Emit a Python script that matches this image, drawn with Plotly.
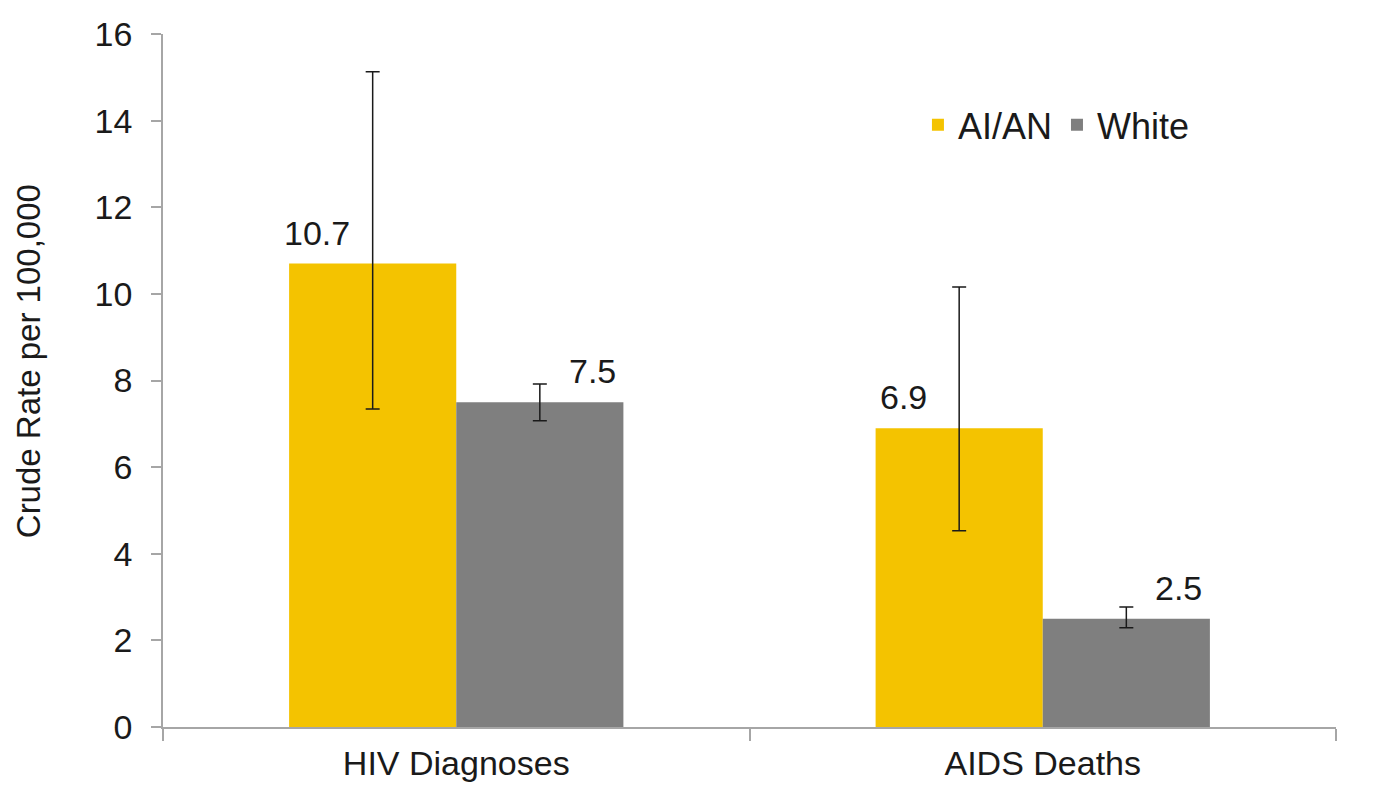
import plotly.graph_objects as go

categories = ["HIV Diagnoses", "AIDS Deaths"]
aian_values = [10.7, 6.9]
aian_upper = [15.13, 10.16]
aian_lower = [7.34, 4.53]
white_values = [7.5, 2.5]
white_upper = [7.92, 2.77]
white_lower = [7.07, 2.29]
y_ticks = [0, 2, 4, 6, 8, 10, 12, 14, 16]

GOLD = "#F4C300"
GRAY = "#7F7F7F"
FONT = "Liberation Sans, Arial, sans-serif"

def err(vals, up, lo):
    return dict(type="data", symmetric=False,
                array=[u - v for u, v in zip(up, vals)],
                arrayminus=[v - l for v, l in zip(vals, lo)],
                color="#1a1a1a", thickness=1.5, width=7)

fig = go.Figure()
fig.add_trace(go.Bar(name="AI/AN", x=categories, y=aian_values, marker_color=GOLD,
                     marker_line_width=0,
                     error_y=err(aian_values, aian_upper, aian_lower)))
fig.add_trace(go.Bar(name="White", x=categories, y=white_values, marker_color=GRAY,
                     marker_line_width=0,
                     error_y=err(white_values, white_upper, white_lower)))

for c, v in zip(categories, aian_values):
    fig.add_annotation(x=c, y=v, text=f"{v:.1f}", showarrow=False, xshift=-139, yshift=31,
                       yanchor="middle", font=dict(size=34, color="#1a1a1a", family=FONT))
for c, v in zip(categories, white_values):
    fig.add_annotation(x=c, y=v, text=f"{v:.1f}", showarrow=False, xshift=136, yshift=31,
                       yanchor="middle", font=dict(size=34, color="#1a1a1a", family=FONT))

fig.add_annotation(xref="paper", yref="paper", x=-0.115, y=0.528, text="Crude Rate per 100,000",
                   textangle=-90, showarrow=False, xanchor="center", yanchor="middle",
                   font=dict(size=33, color="#1a1a1a", family=FONT))

fig.update_layout(
    width=1368, height=777,
    margin=dict(l=155, r=40, t=26, b=58),
    paper_bgcolor="white", plot_bgcolor="white",
    barmode="group", bargap=0.43, bargroupgap=0,
    font=dict(family=FONT, color="#1a1a1a", size=32),
    showlegend=True,
    legend=dict(orientation="h", x=0.6436, y=0.869, xanchor="left", yanchor="middle",
                font=dict(size=36, family=FONT, color="#1a1a1a"),
                bgcolor="rgba(0,0,0,0)", itemwidth=30, tracegroupgap=0),
    xaxis=dict(showline=True, linecolor="#A6A6A6", linewidth=1.5, automargin=False,
               ticks="outside", tickson="boundaries", ticklen=12, tickcolor="#A6A6A6",
               tickwidth=1.5, tickfont=dict(size=34, family=FONT), showgrid=False,
               ticklabelstandoff=5),
    yaxis=dict(range=[0, 16], tickvals=y_ticks, showline=True, linecolor="#A6A6A6",
               linewidth=1.5, ticks="outside", ticklen=10, tickcolor="#A6A6A6", tickwidth=1.5,
               tickfont=dict(size=34, family=FONT), showgrid=False, zeroline=False,
               automargin=False, ticklabelstandoff=12),
)

fig.write_html("out.html")
